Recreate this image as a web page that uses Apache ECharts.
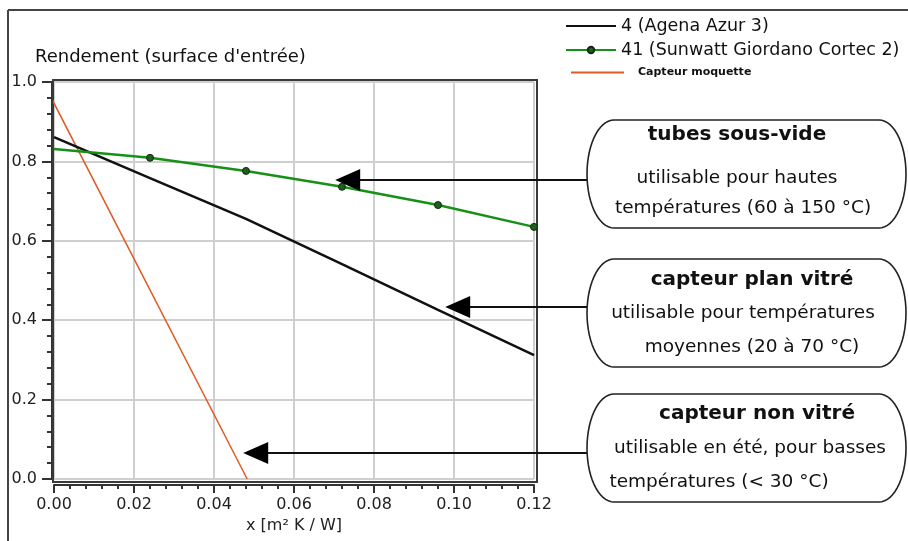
<!DOCTYPE html>
<html><head><meta charset="utf-8">
<script src="https://cdn.jsdelivr.net/npm/echarts@6/dist/echarts.min.js"></script>
<style>html,body{margin:0;padding:0;background:#fff}#c{width:908px;height:541px}</style>
</head><body><div id="c"></div>
<script>
// ---- data ----
const xTicks = [0, 0.02, 0.04, 0.06, 0.08, 0.10, 0.12];
const yTicks = [0, 0.2, 0.4, 0.6, 0.8, 1.0];
const seriesNames = ['4 (Agena Azur 3)', '41 (Sunwatt Giordano Cortec 2)', 'Capteur moquette'];
const agenaX = [0, 0.024, 0.048, 0.072, 0.096, 0.12];
const agenaY = [0.861, 0.758, 0.655, 0.541, 0.426, 0.312];
const sunwattX = [0, 0.024, 0.048, 0.072, 0.096, 0.12];
const sunwattY = [0.831, 0.809, 0.776, 0.736, 0.690, 0.635];
const moquetteX = [-0.0015, 0.0483];
const moquetteY = [0.976, 0];
const yAxisTitle = "Rendement (surface d'entrée)";
const xAxisTitle = 'x [m² K / W]';
const calloutTitles = ['tubes sous-vide', 'capteur plan vitré', 'capteur non vitré'];
const calloutLines = [
  ['utilisable pour hautes', 'températures (60 à 150 °C)'],
  ['utilisable pour températures', 'moyennes (20 à 70 °C)'],
  ['utilisable en été, pour basses', 'températures (< 30 °C)']
];
const calloutTargetX = [0.0703, 0.0978, 0.0473];
const calloutTargetY = [0.753, 0.433, 0.0655];

// ---- chart ----
const FONT = 'DejaVu Sans';
const chart = echarts.init(document.getElementById('c'), null, {renderer: 'canvas'});
const pairs = (xs, ys) => xs.map((x, i) => [x, ys[i]]);
const axisCommon = {
  type: 'value',
  axisLine: {show: true, onZero: false, lineStyle: {color: '#333', width: 2}},
  splitLine: {show: true, lineStyle: {color: '#cfcfcf', width: 2}},
  minorSplitLine: {show: false}
};
const legendText = {fontFamily: FONT, fontSize: 17.5, color: '#111'};
const hiddenSymbol = {opacity: 0};
chart.setOption({
  animation: false,
  backgroundColor: '#fff',
  grid: {left: 54, right: 374, top: 82, bottom: 62, show: false,
         containLabel: false, outerBoundsMode: 'none'},
  xAxis: Object.assign({}, axisCommon, {
    min: xTicks[0], max: xTicks[xTicks.length - 1], interval: xTicks[1] - xTicks[0], offset: 6,
    axisTick: {show: true, inside: false, length: 8, lineStyle: {color: '#333', width: 2}},
    minorTick: {show: true, splitNumber: 5, length: 4, lineStyle: {color: '#333', width: 2}},
    axisLabel: {margin: 12, fontFamily: FONT, fontSize: 16, color: '#222', formatter: v => v.toFixed(2)},
    name: xAxisTitle, nameLocation: 'middle', nameGap: 40,
    nameTextStyle: {fontFamily: FONT, fontSize: 16, color: '#222', verticalAlign: 'middle'}
  }),
  yAxis: Object.assign({}, axisCommon, {
    min: yTicks[0], max: yTicks[yTicks.length - 1], interval: yTicks[1] - yTicks[0], offset: 2,
    axisTick: {show: true, inside: false, length: 10, lineStyle: {color: '#333', width: 2}},
    minorTick: {show: true, splitNumber: 5, length: 5, lineStyle: {color: '#333', width: 2}},
    axisLabel: {margin: 15, fontFamily: FONT, fontSize: 16, color: '#222', formatter: v => v.toFixed(1)}
  }),
  legend: [
    {data: [seriesNames[0]], orient: 'vertical', left: 565, top: 17, padding: 0, itemWidth: 50, itemHeight: 14,
     selectedMode: false, itemStyle: hiddenSymbol, textStyle: legendText},
    {data: [seriesNames[1]], orient: 'vertical', left: 565, top: 41, padding: 0, itemWidth: 50, itemHeight: 8,
     selectedMode: false, textStyle: legendText},
    {data: [seriesNames[2]], orient: 'vertical', left: 570, top: 67, padding: 0, itemWidth: 53, itemHeight: 14,
     selectedMode: false, itemStyle: hiddenSymbol,
     textStyle: {fontFamily: FONT, fontSize: 11, fontWeight: 'bold', color: '#111', padding: [0, 0, 0, 9]}}
  ],
  series: [
    {name: seriesNames[0], type: 'line', data: pairs(agenaX, agenaY), symbol: 'none',
     lineStyle: {color: '#111', width: 2.5}, itemStyle: {color: '#111'}, z: 3},
    {name: seriesNames[1], type: 'line',
     data: sunwattX.map((x, i) => ({value: [x, sunwattY[i]], symbol: i === 0 ? 'none' : 'circle'})),
     symbol: 'circle', symbolSize: 7, showSymbol: true,
     lineStyle: {color: '#179017', width: 2.5},
     itemStyle: {color: '#1f5f1f', borderColor: '#0d2d0d', borderWidth: 1}, z: 4},
    {name: seriesNames[2], type: 'line', data: pairs(moquetteX, moquetteY), symbol: 'none', clip: false,
     lineStyle: {color: '#e05a22', width: 1.5}, itemStyle: {color: '#e05a22'}, z: 2}
  ]
});

// ---- annotations (frame, axis title, callouts) ----
const boxes = [{t: 120, b: 228}, {t: 259, b: 367}, {t: 394, b: 502}];
const boxL = 587, boxR = 906, boxRx = 27;
const titlePos = [[737, 135], [752, 280], [757, 414]];
const linePos = [[[737, 178], [743, 208]], [[743, 313], [752, 347]], [[750, 448], [719, 482]]];
function boxPoints(t, b) {
  const cy = (t + b) / 2, ry = (b - t) / 2, N = 30, pts = [];
  for (let i = 0; i <= N; i++) {
    const a = -Math.PI / 2 + Math.PI * i / N;
    pts.push([boxR - boxRx + boxRx * Math.cos(a), cy + ry * Math.sin(a)]);
  }
  for (let i = 0; i <= N; i++) {
    const a = Math.PI / 2 + Math.PI * i / N;
    pts.push([boxL + boxRx + boxRx * Math.cos(a), cy + ry * Math.sin(a)]);
  }
  return pts;
}
function txt(text, x, y, font, align) {
  return {type: 'text', x: x, y: y, z: 20, silent: true,
    style: {text: text, font: font, fill: '#111', textAlign: align || 'center', align: align || 'center',
            textVerticalAlign: 'middle', verticalAlign: 'middle'}};
}
const tl = chart.convertToPixel({gridIndex: 0}, [xTicks[0], yTicks[yTicks.length - 1]]);
const br = chart.convertToPixel({gridIndex: 0}, [xTicks[xTicks.length - 1], yTicks[0]]);
const g = [
  {type: 'line', shape: {x1: 8, y1: 10, x2: 908, y2: 10}, style: {stroke: '#444', lineWidth: 2}, silent: true},
  {type: 'line', shape: {x1: 8, y1: 10, x2: 8, y2: 541}, style: {stroke: '#444', lineWidth: 2}, silent: true},
  {type: 'rect', z: 1, silent: true,
   shape: {x: tl[0] - 1, y: tl[1] - 2, width: br[0] - tl[0] + 4, height: br[1] - tl[1] + 5},
   style: {fill: 'none', stroke: '#3a3a3a', lineWidth: 2}},
  txt(yAxisTitle, 35, 57, '18px "' + FONT + '"', 'left')
];
boxes.forEach((bx, i) => {
  const tip = chart.convertToPixel({gridIndex: 0}, [calloutTargetX[i], calloutTargetY[i]]);
  g.push({type: 'line', z: 15, silent: true, shape: {x1: tip[0] + 18, y1: tip[1], x2: boxL + 2, y2: tip[1]},
          style: {stroke: '#111', lineWidth: 2}});
  g.push({type: 'polygon', z: 16, silent: true,
          shape: {points: [[tip[0], tip[1]], [tip[0] + 25, tip[1] - 11], [tip[0] + 25, tip[1] + 11]]},
          style: {fill: '#000'}});
  g.push({type: 'polygon', z: 17, silent: true, shape: {points: boxPoints(bx.t, bx.b)},
          style: {fill: '#fff', stroke: '#222', lineWidth: 1.6}});
  g.push(txt(calloutTitles[i], titlePos[i][0], titlePos[i][1], 'bold 20px "' + FONT + '"'));
  calloutLines[i].forEach((ln, j) => {
    g.push(txt(ln, linePos[i][j][0], linePos[i][j][1], '18.5px "' + FONT + '"'));
  });
});
chart.setOption({graphic: {elements: g}});
</script>
</body></html>
